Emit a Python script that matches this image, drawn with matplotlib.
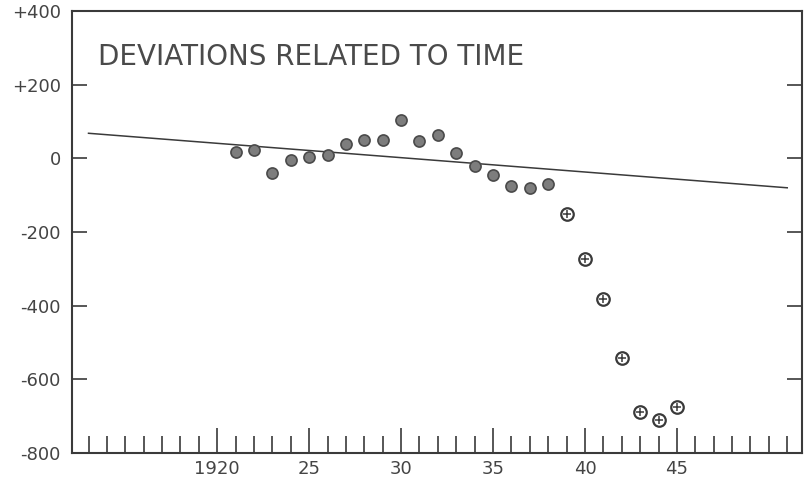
import matplotlib.pyplot as plt
import numpy as np
from matplotlib.ticker import MultipleLocator, FixedLocator

# deviations, one per year
years_solid = [1921, 1922, 1923, 1924, 1925, 1926, 1927, 1928, 1929, 1930,
               1931, 1932, 1933, 1934, 1935, 1936, 1937, 1938]
dev_solid = [18, 22, -39, -5, 4, 9, 40, 51, 49, 105,
             47, 63, 15, -20, -44, -75, -80, -70]

years_cross = [1939, 1940, 1941, 1942, 1943, 1944, 1945]
dev_cross = [-151, -272, -383, -542, -688, -711, -674]

# trend line end points
trend_x = [1913, 1951]
trend_y = [68, -80]

xtick_pos = [1920, 1925, 1930, 1935, 1940, 1945]
xtick_labels = ['1920', '25', '30', '35', '40', '45']
ytick_pos = [-800, -600, -400, -200, 0, 200, 400]
ytick_labels = ['-800', '-600', '-400', '-200', '0', '+200', '+400']

ink = '#3a3a3a'

fig = plt.figure(figsize=(8.05, 4.82), dpi=100)
ax = fig.add_axes([0.0894, 0.0602, 0.9068, 0.917])

ax.plot(trend_x, trend_y, color=ink, lw=1.1)

ax.plot(years_solid, dev_solid, 'o', ms=8, mfc='#7d7d7d', mec='#4a4a4a', mew=1.2)
ax.plot(years_cross, dev_cross, 'o', ms=9, mfc='white', mec=ink, mew=1.6)
ax.plot(years_cross, dev_cross, '+', ms=6, mec=ink, mew=1.1)

ax.set_xlim(1912.1, 1951.8)
ax.set_ylim(-800, 400)

for s in ax.spines.values():
    s.set_color(ink)
    s.set_linewidth(1.5)

ax.xaxis.set_major_locator(FixedLocator(xtick_pos))
ax.xaxis.set_minor_locator(MultipleLocator(1))
ax.set_xticks(xtick_pos, xtick_labels)
ax.set_yticks(ytick_pos, ytick_labels)

ax.tick_params(axis='x', which='major', direction='in', length=18, width=1.2,
               color=ink, labelsize=13, labelcolor='#444444', pad=5)
ax.tick_params(axis='x', which='minor', direction='in', length=12, width=1.2,
               color=ink)
ax.tick_params(axis='y', which='major', direction='in', length=11, width=1.2,
               color=ink, labelsize=13, labelcolor='#444444', pad=8,
               right=True)

ax.text(0.035, 0.896, 'DEVIATIONS RELATED TO TIME', transform=ax.transAxes,
        fontsize=20, color='#4a4a4a', va='center', ha='left')

fig.savefig('out.png', dpi=100)
